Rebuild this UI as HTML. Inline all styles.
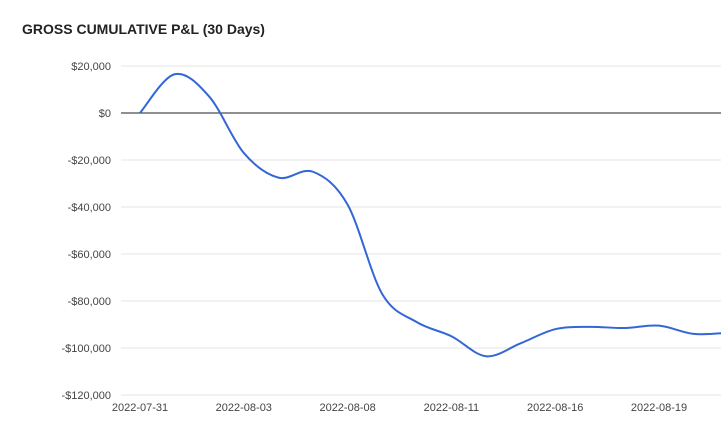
<!DOCTYPE html>
<html><head><meta charset="utf-8"><style>
body{margin:0;background:#fff;font-family:"Liberation Sans",sans-serif;}
#wrap{position:relative;width:721px;height:443px;overflow:hidden;}
#title{position:absolute;left:22px;top:21px;font-size:14px;font-weight:bold;color:#222;}
</style></head><body>
<div id="wrap">
<div id="title">GROSS CUMULATIVE P&amp;L (30 Days)</div>
<svg id="chart" width="721" height="443"></svg>
</div>
<script>
const categories=["2022-07-31","2022-08-01","2022-08-02","2022-08-03","2022-08-04","2022-08-05","2022-08-08","2022-08-09","2022-08-10","2022-08-11","2022-08-12","2022-08-15","2022-08-16","2022-08-17","2022-08-18","2022-08-19","2022-08-22","2022-08-23"];
const pnlValues=[0,16500,7000,-17000,-27500,-25000,-39000,-77000,-89000,-95000,-103500,-98000,-92000,-91000,-91500,-90500,-94000,-93500];
const yTicks=[20000,0,-20000,-40000,-60000,-80000,-100000,-120000];
const xLabelIdx=[0,3,6,9,12,15];
const NS="http://www.w3.org/2000/svg";
const svg=document.getElementById('chart');
const x0=140,step=34.6,plotL=121,plotR=721;
function X(i){return x0+i*step;}
function Y(v){return 113-v*47/20000;}
function fmt(v){const a=Math.abs(v).toLocaleString('en-US');return (v<0?'-$':'$')+a;}
function el(t,a){const e=document.createElementNS(NS,t);for(const k in a)e.setAttribute(k,a[k]);svg.appendChild(e);return e;}
yTicks.forEach(v=>{
  const g=el('line',{x1:plotL,x2:plotR,y1:Y(v),y2:Y(v),stroke:v===0?'#222':'#e6e6e6','stroke-width':1});
  
  
  const t=el('text',{x:111,y:Y(v)+4,'text-anchor':'end','font-size':11,fill:'#444'});
  t.textContent=fmt(v);
  
  
});
xLabelIdx.forEach(i=>{
  const t=el('text',{x:X(i),y:411,'text-anchor':'middle','font-size':11,fill:'#444'});
  t.textContent=categories[i];
  
  
});
const pts=pnlValues.map((v,i)=>[X(i),Y(v)]);
let d='M'+pts[0][0]+','+pts[0][1];
for(let i=0;i<pts.length-1;i++){
  const p0=pts[i-1]||pts[i],p1=pts[i],p2=pts[i+1],p3=pts[i+2]||p2;
  const c1=[p1[0]+(p2[0]-p0[0])/6,p1[1]+(p2[1]-p0[1])/6];
  const c2=[p2[0]-(p3[0]-p1[0])/6,p2[1]-(p3[1]-p1[1])/6];
  d+=' C'+c1+' '+c2+' '+p2;
}
const line=el('path',{d:d,fill:'none',stroke:'#3366d6','stroke-width':2});


</script>
</body></html>
